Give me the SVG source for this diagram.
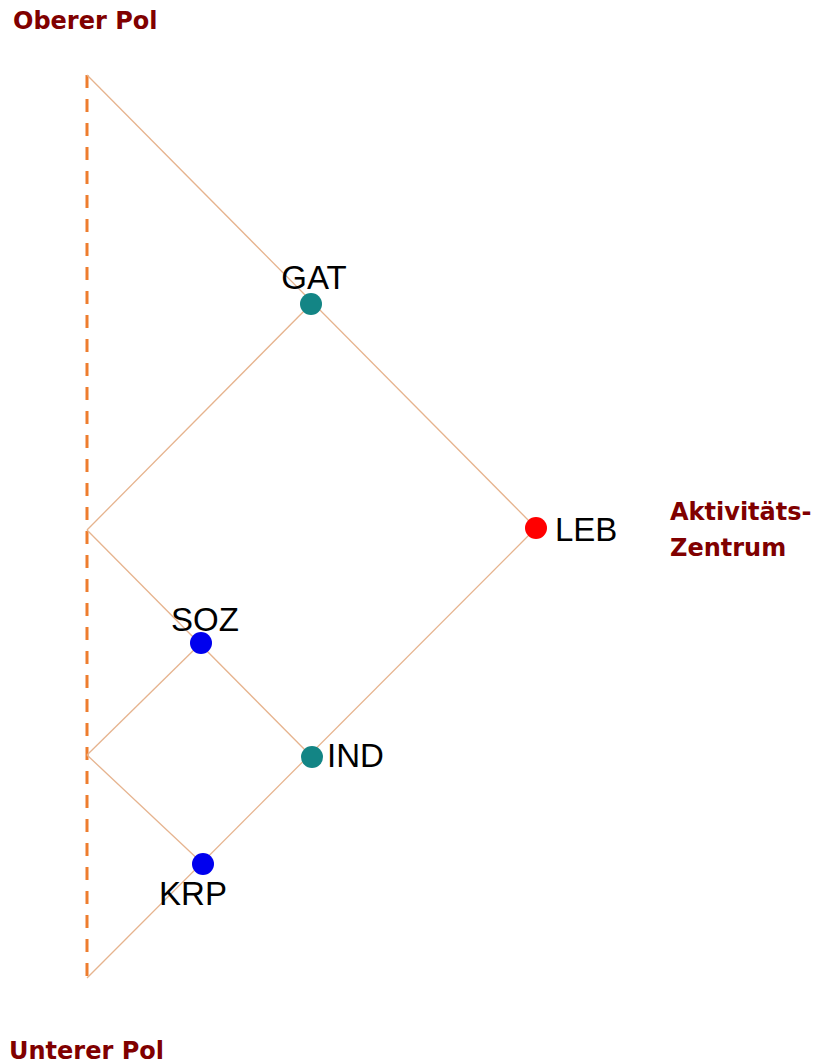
<svg xmlns="http://www.w3.org/2000/svg" width="828" height="1064" viewBox="0 0 828 1064">
  <style>
    .pole { font-family: "DejaVu Sans", Verdana, sans-serif; font-weight: bold; font-size: 24px; fill: #800000; }
    .lbl { font-family: "Liberation Sans", Arial, sans-serif; font-size: 33px; fill: #000; }
    .edge { stroke: #e6b38e; stroke-width: 1.3; fill: none; }
    .axis { stroke: #ee7d2e; stroke-width: 3; stroke-dasharray: 13 11; fill: none; }
  </style>
  <rect width="828" height="1064" fill="#fff"/>

  <text class="pole" x="13" y="29">Oberer Pol</text>
  <text class="pole" x="9" y="1059">Unterer Pol</text>
  <text class="pole" x="670" y="520">Aktivitäts-</text>
  <text class="pole" x="670" y="556">Zentrum</text>

  <g id="connectors">
    <line class="axis" x1="87" y1="75" x2="87" y2="980"/>
    <line class="edge" x1="87" y1="75" x2="536" y2="528"/>
    <line class="edge" x1="87" y1="530" x2="311" y2="304"/>
    <line class="edge" x1="87" y1="530" x2="312" y2="757"/>
    <line class="edge" x1="87" y1="755" x2="201" y2="643"/>
    <line class="edge" x1="87" y1="755" x2="203" y2="864"/>
    <line class="edge" x1="87" y1="978" x2="536" y2="528"/>
  </g>

  <g id="GAT">
    <circle cx="311" cy="304" r="11" fill="#138585"/>
    <text class="lbl" x="314" y="289" text-anchor="middle">GAT</text>
  </g>
  <g id="LEB">
    <circle cx="536" cy="528" r="11" fill="#ff0000"/>
    <text class="lbl" x="555" y="541">LEB</text>
  </g>
  <g id="SOZ">
    <circle cx="201" cy="643" r="11" fill="#0000ee"/>
    <text class="lbl" x="205" y="631" text-anchor="middle">SOZ</text>
  </g>
  <g id="IND">
    <circle cx="312" cy="757" r="11" fill="#138585"/>
    <text class="lbl" x="327" y="767">IND</text>
  </g>
  <g id="KRP">
    <circle cx="203" cy="864" r="11" fill="#0000ee"/>
    <text class="lbl" x="193" y="905" text-anchor="middle">KRP</text>
  </g>
</svg>
